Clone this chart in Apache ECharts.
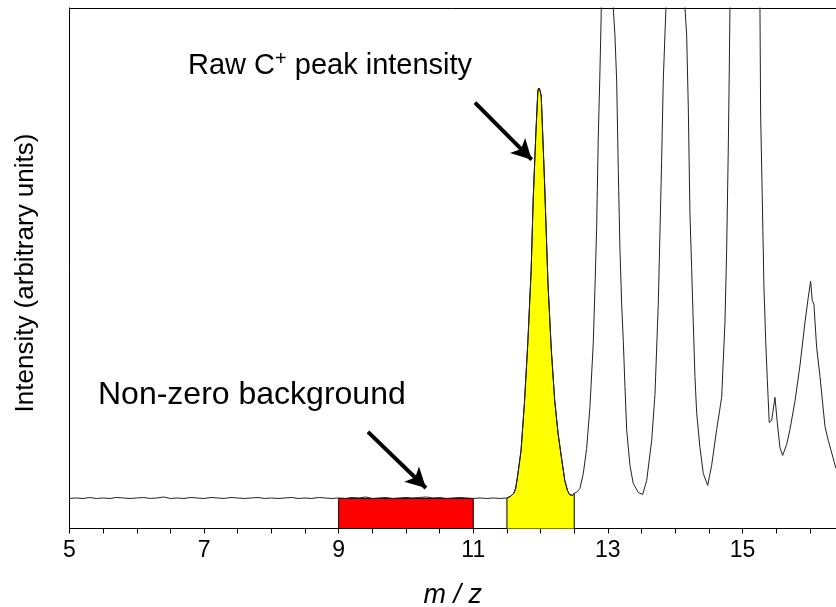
<!DOCTYPE html>
<html>
<head>
<meta charset="utf-8">
<script src="https://cdn.jsdelivr.net/npm/echarts@6/dist/echarts.min.js"></script>
<style>html,body{margin:0;padding:0;background:#fff;}#c{width:836px;height:607px;}</style>
</head>
<body>
<div id="c"></div>
<script>
// m/z positions of the spectrum samples
const mz = [
  5.0,5.1,5.2,5.3,5.4,5.5,5.6,5.7,5.8,5.9,
  6.0,6.1,6.2,6.3,6.4,6.5,6.6,6.7,6.8,6.9,
  7.0,7.1,7.2,7.3,7.4,7.5,7.6,7.7,7.8,7.9,
  8.0,8.1,8.2,8.3,8.4,8.5,8.6,8.7,8.8,8.9,
  9.0,9.1,9.2,9.3,9.4,9.5,9.6,9.7,9.8,9.9,
  10.0,10.1,10.2,10.3,10.4,10.5,10.6,10.7,10.8,10.9,
  11.0,11.1,11.2,11.3,11.4,11.5,
  11.55,11.6,11.63,11.66,11.71,11.76,11.81,11.86,11.89,11.93,11.96,11.975,11.99,12.01,
  12.06,12.11,12.16,12.21,12.26,12.31,12.36,12.40,12.43,12.47,12.50,12.55,
  12.585,12.635,12.685,12.734,12.783,12.808,12.833,12.857,12.88,12.90,12.99,
  13.08,13.105,13.131,13.155,13.18,13.205,13.229,13.254,13.279,13.328,13.377,13.452,13.517,
  13.577,13.651,13.70,13.749,13.774,13.799,13.823,13.848,13.863,14.0,
  14.146,14.171,14.195,14.22,14.245,14.269,14.294,14.319,14.368,14.418,14.483,
  14.542,14.617,14.691,14.74,14.765,14.789,14.804,14.814,15.04,
  15.26,15.27,15.294,15.319,15.345,15.369,15.398,15.434,15.483,15.517,15.557,15.597,
  15.657,15.706,15.78,15.855,15.929,15.978,16.013,16.037,16.062,16.102,16.152,16.226,16.275,16.39
];
// intensity (arbitrary units)
const intensity = [
  30,30.5,30,31,30,30.5,30,31,30.5,30,
  30.5,31,30,30.5,31.5,30,30.5,30,31,30.5,
  30,31,30.5,30,31,30.5,30,30.5,31,30,
  30.5,30,30.5,31,30,30.5,30,31,30.5,30,
  30.5,30,31,30.5,31.5,30,30.5,31,30,30.5,
  31,30.5,31,31.5,30.5,31,30,30.5,31,30.5,
  30,30.5,30,30.5,30,30.5,
  32,35,40,53,78,125,185,258,328,395,438,440,438,432,
  345,245,178,128,95,71,48,38,34,33,35,37,
  40,55,80,122,185,240,300,390,450,510,1500,
  520,493,447,357,278,224,188,142,99,63,45,36,34,
  48,88,134,224,296,368,447,493,520,1500,
  520,493,421,314,260,206,152,116,81,55,43,
  63,99,131,206,278,378,457,520,1800,
  520,414,332,242,188,149,106,108,131,106,81,73,
  84,99,127,163,206,231,247,228,224,181,152,102,88,60
];
const xTickLabels = [5, 7, 9, 11, 13, 15];
const peakRange = [11.5, 12.5];     // yellow: raw C+ peak
const bgRange = [9, 11];            // red: background window
const bgLevel = 30;                 // background level
const arrowPeak = [[11.025, 425.5], [11.868, 368.5]];
const arrowBg = [[9.435, 96.5], [10.297, 40.5]];

const FONT = 'Liberation Sans, Arial, sans-serif';
const lineData = mz.map((x, i) => [x, intensity[i]]);
const peakData = [[peakRange[0], 0]]
  .concat(lineData.filter(p => p[0] >= peakRange[0] && p[0] <= peakRange[1]))
  .concat([[peakRange[1], 0]]);

const chart = echarts.init(document.getElementById('c'), null, {renderer: 'canvas'});
chart.setOption({
  animation: false,
  backgroundColor: '#fff',
  grid: {left: 69.5, right: 0, top: 8, bottom: 78.5, containLabel: false, outerBoundsMode: 'none'},
  xAxis: [{
    type: 'value', min: 5, max: 16.39, interval: 0.5,
    name: 'm / z', nameLocation: 'middle', nameGap: 53,
    nameTextStyle: {fontFamily: FONT, fontSize: 27, fontStyle: 'italic', color: '#000'},
    axisLine: {show: true, onZero: false, lineStyle: {color: '#000', width: 1}},
    axisTick: {show: true, length: 5, lineStyle: {color: '#000', width: 1}},
    axisLabel: {
      show: true, margin: 11, fontFamily: FONT, fontSize: 23, color: '#000',
      formatter: v => xTickLabels.some(t => Math.abs(t - v) < 1e-6) ? String(Math.round(v)) : ''
    },
    splitLine: {show: false}
  }, {
    type: 'value', position: 'top', min: 5, max: 16.39,
    axisLine: {show: true, onZero: false, lineStyle: {color: '#000', width: 1}},
    axisTick: {show: false}, axisLabel: {show: false}, splitLine: {show: false}
  }],
  yAxis: {
    type: 'value', min: 0, max: 520,
    axisLine: {show: true, onZero: false, lineStyle: {color: '#000', width: 1}},
    axisTick: {show: false}, axisLabel: {show: false}, splitLine: {show: false}
  },
  series: [{
    type: 'line', data: peakData, z: 2, showSymbol: false, symbol: 'none', silent: true,
    lineStyle: {color: '#000', width: 1},
    areaStyle: {color: '#ffff00', opacity: 1, origin: 'start'},
    markArea: {
      silent: true,
      itemStyle: {color: '#ff0000', borderColor: '#000', borderWidth: 1},
      data: [[{xAxis: bgRange[0], yAxis: 0}, {xAxis: bgRange[1], yAxis: bgLevel}]]
    }
  }, {
    type: 'line', data: lineData, z: 5, showSymbol: false, symbol: 'none', silent: true,
    clip: true,
    lineStyle: {color: '#222', width: 1},
    markLine: {
      silent: true, animation: false,
      symbol: ['none', 'arrow'], symbolSize: [16, 20],
      lineStyle: {color: '#000', width: 4, type: 'solid'},
      label: {show: false},
      emphasis: {disabled: true},
      data: [
        [{coord: arrowPeak[0]}, {coord: arrowPeak[1]}],
        [{coord: arrowBg[0]}, {coord: arrowBg[1]}]
      ]
    }
  }],
  graphic: [{
    type: 'text', silent: true,
    style: {
      x: 188, y: 66, align: 'left', verticalAlign: 'middle',
      text: '{a|Raw C}{s|+}{a| peak intensity}',
      rich: {
        a: {fontFamily: FONT, fontSize: 29, fill: '#000', color: '#000', lineHeight: 30},
        s: {fontFamily: FONT, fontSize: 20, fill: '#000', color: '#000', lineHeight: 20, padding: [0, 0, 14, 0]}
      }
    }
  }, {
    type: 'text', silent: true,
    style: {
      x: 98, y: 395, align: 'left', verticalAlign: 'middle',
      text: 'Non-zero background',
      fontFamily: FONT, fontSize: 32, fill: '#000'
    }
  }, {
    type: 'text', silent: true,
    x: 25.5, y: 273, rotation: Math.PI / 2,
    style: {
      x: 0, y: 0, align: 'center', verticalAlign: 'middle',
      text: 'Intensity (arbitrary units)',
      fontFamily: FONT, fontSize: 26, fill: '#000'
    }
  }]
});
</script>
</body>
</html>
